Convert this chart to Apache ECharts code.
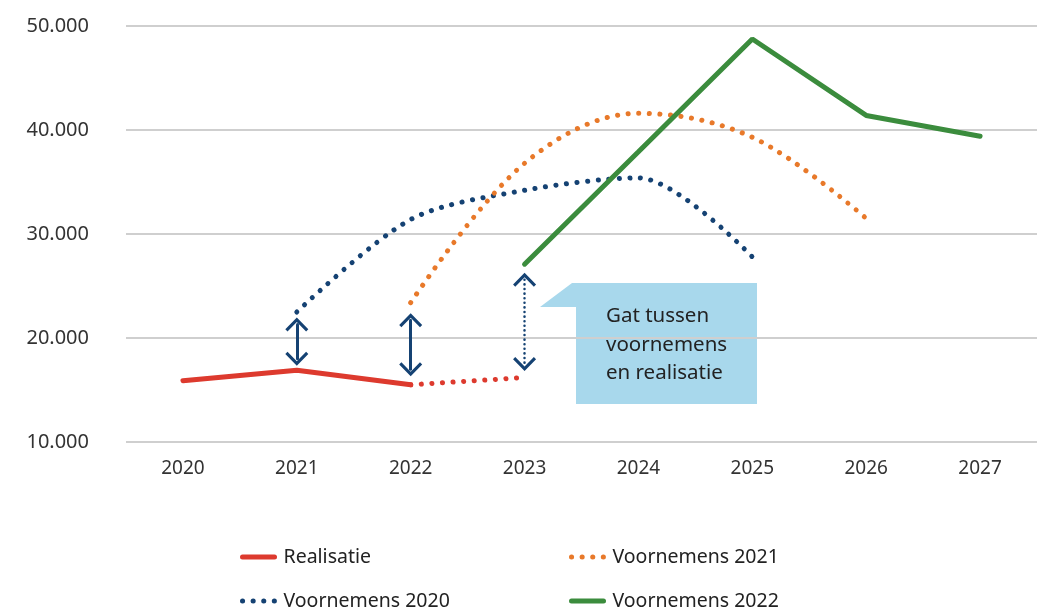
<!DOCTYPE html>
<html>
<head>
<meta charset="utf-8">
<script src="https://cdn.jsdelivr.net/npm/echarts@6/dist/echarts.min.js"></script>
<style>
  html, body { margin: 0; padding: 0; background: #fff; }
  #chart { width: 1040px; height: 611px; }
</style>
</head>
<body>
<div id="chart"></div>
<script>
const years = ["2020", "2021", "2022", "2023", "2024", "2025", "2026", "2027"];
const realisatie = [15900, 16900, 15500, null, null, null, null, null];
const realisatieVerwacht = [null, null, 15500, 16200, null, null, null, null];
const voornemens2020 = [null, 22500, 31400, 34200, 35400, 27800, null, null];
const voornemens2021 = [null, null, 23400, 36800, 41600, 39300, 31500, null];
const voornemens2022 = [null, null, null, 27100, 37900, 48750, 41400, 39400];
// gaps between plans and realisation: [year, top, bottom]
const gaps = [
  ["2021", 21300, 18000],
  ["2022", 21700, 17000],
  ["2023", 25600, 17500],
];

const red = "#dd3a2e";
const orange = "#e8792a";
const navy = "#154273";
const green = "#3b8c3d";
const font = "Noto Sans";

const dotted = (color) => ({
  color: color,
  width: 5,
  type: [0.1, 10.5],
  cap: "round",
});

const chevron = "path://M0,11 L11,0 L22,11 L19.9,13.1 L11,4.2 L2.1,13.1 Z";

const legendBase = {
  orient: "vertical",
  top: 547,
  height: 90,
  padding: 0,
  itemGap: 24,
  itemWidth: 32,
  itemHeight: 10,
  itemStyle: { opacity: 0 },
  lineStyle: { width: 5, cap: "round" },
  textStyle: { fontSize: 19.5, color: "#222", fontFamily: font, padding: [0, 0, 0, 4] },
};

const chart = echarts.init(document.getElementById("chart"));
chart.setOption({
  animation: false,
  textStyle: { fontFamily: font },
  grid: { left: 126, right: 3, top: 26, bottom: 169 },
  legend: [
    Object.assign({}, legendBase, { left: 240, data: ["Realisatie", "Voornemens 2020"] }),
    Object.assign({}, legendBase, { left: 569, data: ["Voornemens 2021", "Voornemens 2022"] }),
  ],
  xAxis: {
    type: "category",
    data: years,
    boundaryGap: true,
    axisLine: { show: false },
    axisTick: { show: false },
    axisLabel: { fontSize: 19, color: "#333", margin: 17 },
  },
  yAxis: {
    type: "value",
    min: 10000,
    max: 50000,
    interval: 10000,
    axisLine: { show: false },
    axisTick: { show: false },
    axisLabel: {
      fontSize: 20,
      color: "#333",
      margin: 37,
      formatter: (v) => String(v).replace(/\B(?=(\d{3})+(?!\d))/g, "."),
    },
    splitLine: { lineStyle: { color: "#cfcfcf", width: 2 } },
  },
  series: [
    {
      name: "Realisatie",
      type: "line",
      data: realisatie,
      symbol: "none",
      color: red,
      lineStyle: { color: red, width: 5, cap: "round" },
    },
    {
      name: "Realisatie verwacht",
      type: "line",
      data: realisatieVerwacht,
      symbol: "none",
      color: red,
      lineStyle: dotted(red),
    },
    {
      name: "Voornemens 2020",
      type: "line",
      data: voornemens2020,
      symbol: "none",
      smooth: 0.3,
      color: navy,
      lineStyle: dotted(navy),
    },
    {
      name: "Voornemens 2021",
      type: "line",
      data: voornemens2021,
      symbol: "none",
      smooth: 0.35,
      color: orange,
      lineStyle: dotted(orange),
    },
    {
      name: "Voornemens 2022",
      type: "line",
      data: voornemens2022,
      symbol: "none",
      color: green,
      lineStyle: { color: green, width: 5, cap: "round" },
    },
    {
      name: "gat",
      type: "line",
      data: [],
      markLine: {
        silent: true,
        symbol: [chevron, chevron],
        symbolSize: [23, 14],
        label: { show: false },
        data: gaps.map((g, i) => [
          {
            coord: [g[0], g[1]],
            lineStyle: {
              color: navy,
              width: i === 2 ? 2.5 : 3,
              type: i === 2 ? [0.1, 4.5] : "solid",
              cap: "round",
            },
          },
          { coord: [g[0], g[2]] },
        ]),
        itemStyle: { color: navy },
      },
    },
  ],
  graphic: [
    {
      type: "polygon",
      shape: {
        points: [
          [540, 307], [572, 283], [757, 283], [757, 404], [576, 404], [576, 307],
        ],
      },
      style: { fill: "#a8d8ec" },
    },
    {
      type: "text",
      left: 606,
      top: 302,
      style: {
        text: "Gat tussen\nvoornemens\nen realisatie",
        fontSize: 20.5,
        lineHeight: 28.5,
        fill: "#222",
        fontFamily: font,
      },
    },
  ],
});
</script>
</body>
</html>
